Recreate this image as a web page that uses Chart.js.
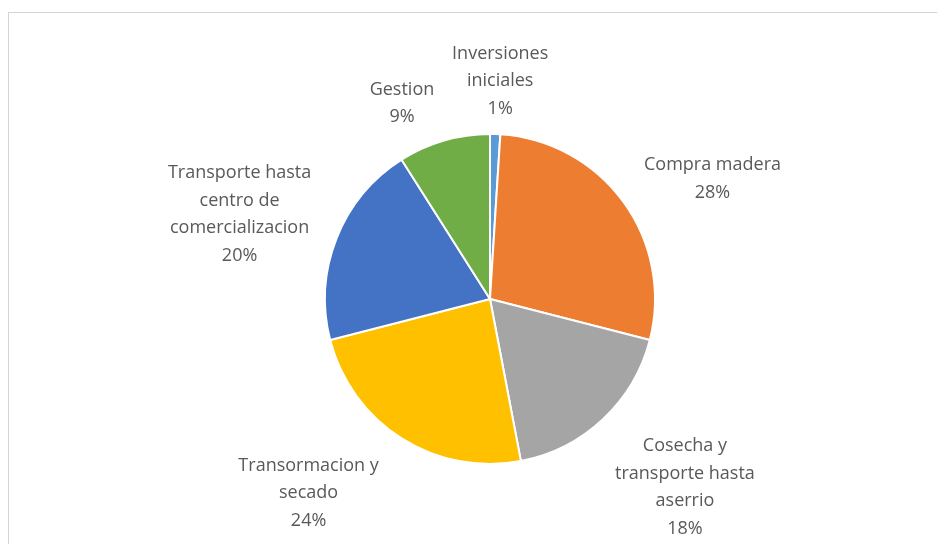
<!DOCTYPE html>
<html>
<head>
<meta charset="utf-8">
<script src="https://cdn.jsdelivr.net/npm/chart.js@4.4.1/dist/chart.umd.min.js"></script>
<style>
  body { margin: 0; background: #fff; }
  #wrap { position: relative; width: 937px; height: 544px; overflow: hidden; }
  #frame { position: absolute; left: 8px; top: 12px; right: -2px; bottom: -2px;
           border-top: 1px solid #d4d4d4; border-left: 1px solid #d4d4d4; }
  canvas { position: absolute; left: 0; top: 0; }
</style>
</head>
<body>
<div id="wrap">
  <div id="frame"></div>
  <canvas id="pie" width="937" height="544"></canvas>
</div>
<script>
// data
const categories = [
  'Inversiones iniciales',
  'Compra madera',
  'Cosecha y transporte hasta aserrio',
  'Transormacion y secado',
  'Transporte hasta centro de comercializacion',
  'Gestion'
];
const shares = [1, 28, 18, 24, 20, 9];
const sliceColors = ['#5b9bd5', '#ed7d31', '#a5a5a5', '#ffc000', '#4472c4', '#70ad47'];

// where each label block sits, relative to the outer edge of its slice
const labelNudge = [[5, -53], [89, -23], [82, 68], [-93, 55], [-97, -24], [-42, -37]];

const labelFont = '18px "Open Sans"';
const lineHeight = 27.5;
const wrapWidth = 150;

function wrapText(ctx, text, maxW) {
  let words = text.split(' ');
  let lines = [];
  let line = '';
  for (const w of words) {
    let test = line ? line + ' ' + w : w;
    if (line && ctx.measureText(test).width > maxW) {
      lines.push(line);
      line = w;
    } else {
      line = test;
    }
  }
  if (line) lines.push(line);
  return lines;
}

// draws the category + percent labels outside the pie
const outsideLabels = {
  id: 'outsideLabels',
  afterDraw(chart) {
    const ctx = chart.ctx;
    const meta = chart.getDatasetMeta(0);
    const total = shares.reduce((a, b) => a + b, 0);
    ctx.save();
    ctx.font = labelFont;
    ctx.fillStyle = '#595959';
    ctx.textAlign = 'center';
    ctx.textBaseline = 'middle';
    meta.data.forEach((arc, i) => {
      const mid = (arc.startAngle + arc.endAngle) / 2;
      const ax = arc.x + Math.cos(mid) * arc.outerRadius;
      const ay = arc.y + Math.sin(mid) * arc.outerRadius;
      const cx = ax + labelNudge[i][0];
      const cy = ay + labelNudge[i][1];
      let lines = wrapText(ctx, categories[i], wrapWidth);
      lines.push(Math.round(shares[i] / total * 100) + '%');
      let top = cy - (lines.length - 1) * lineHeight / 2;
      lines.forEach((l, k) => ctx.fillText(l, cx, top + k * lineHeight));
    });
    ctx.restore();
  }
};

new Chart(document.getElementById('pie'), {
  type: 'pie',
  data: {
    labels: categories,
    datasets: [{
      data: shares,
      backgroundColor: sliceColors,
      borderColor: '#ffffff',
      borderWidth: 2
    }]
  },
  options: {
    responsive: false,
    animation: false,
    layout: { padding: { top: 133, bottom: 79, left: 324, right: 281 } },
    plugins: {
      legend: { display: false },
      tooltip: { enabled: false }
    }
  },
  plugins: [outsideLabels]
});
</script>
</body>
</html>
